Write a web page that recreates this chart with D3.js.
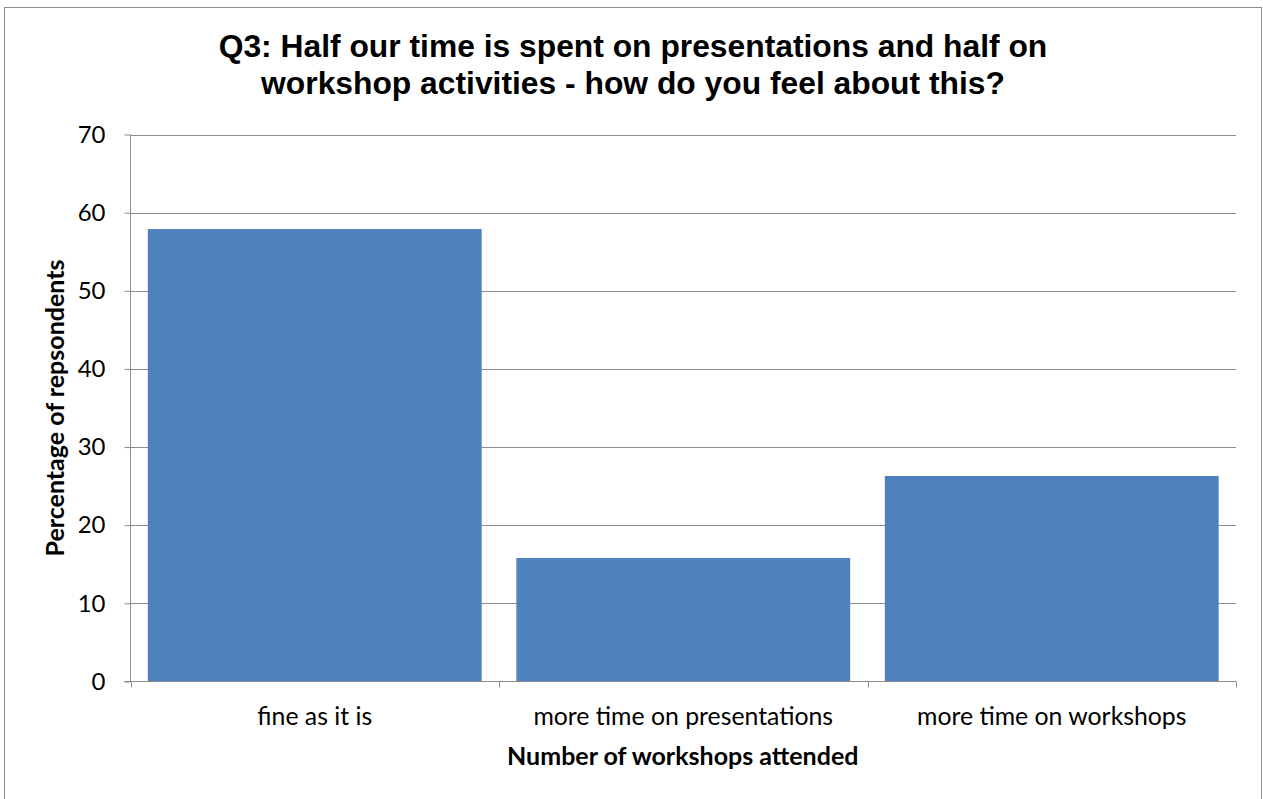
<!DOCTYPE html>
<html><head><meta charset="utf-8">
<script src="https://cdn.jsdelivr.net/npm/d3@7"></script>
<style>body{margin:0;background:#fff}svg{display:block}</style>
</head><body>
<script>
const categories = ["fine as it is", "more time on presentations", "more time on workshops"];
const values = [57.9, 15.8, 26.3];
const yTicks = [0, 10, 20, 30, 40, 50, 60, 70];
const titleLines = ["Q3: Half our time is spent on presentations and half on", "workshop activities - how do you feel about this?"];
const xTitle = "Number of workshops attended";
const yTitle = "Percentage of repsondents";

const W = 1263, H = 799;
const m = {left: 130.5, right: 1236, top: 134.5, bottom: 681.5};
const font = "Lato, 'Open Sans', sans-serif";
const svg = d3.select("body").append("svg").attr("width", W).attr("height", H);
svg.append("rect").attr("x", 4.5).attr("y", 7.5).attr("width", 1257).attr("height", 800)
  .attr("fill", "#fff").attr("stroke", "#8c8c8c").attr("stroke-width", 1);

const x = d3.scaleBand().domain(categories).range([m.left, m.right]).paddingInner(0.094).paddingOuter(0.047);
const y = d3.scaleLinear().domain([0, 70]).range([m.bottom, m.top]);

// gridlines
svg.append("g").selectAll("line").data(yTicks.filter(d => d > 0)).join("line")
  .attr("x1", m.left).attr("x2", m.right)
  .attr("y1", d => Math.round(y(d)) + 0.5).attr("y2", d => Math.round(y(d)) + 0.5)
  .attr("stroke", "#8c8c8c").attr("stroke-width", 1);

// bars
svg.append("g").selectAll("rect").data(values).join("rect")
  .attr("x", (d, i) => x(categories[i])).attr("width", x.bandwidth())
  .attr("y", d => y(d)).attr("height", d => y(0) - y(d))
  .attr("fill", "#4F81BD");

// y axis
const yAxis = d3.axisLeft(y).tickValues(yTicks).tickSize(6).tickPadding(19).tickFormat(d3.format("d"));
const gy = svg.append("g").attr("transform", `translate(${m.left},0)`).call(yAxis);
gy.select(".domain").attr("stroke", "#8c8c8c").attr("d", `M0,${m.top}V${m.bottom}`);
gy.selectAll(".tick line").attr("stroke", "#8c8c8c");
gy.selectAll(".tick text").attr("font-family", font).attr("font-size", 24).attr("fill", "#000");

// x axis
const xb = d3.scaleLinear().domain([0, 3]).range([m.left, m.right]);
const gx = svg.append("g").attr("transform", `translate(0,${m.bottom})`);
gx.append("line").attr("x1", m.left - 6).attr("x2", m.right).attr("stroke", "#8c8c8c");
gx.selectAll("line.t").data([0, 1, 2, 3]).join("line").attr("class", "t")
  .attr("x1", d => Math.round(xb(d)) + 0.5).attr("x2", d => Math.round(xb(d)) + 0.5)
  .attr("y1", 0).attr("y2", 6).attr("stroke", "#8c8c8c");
gx.selectAll("text").data(categories).join("text")
  .attr("x", d => x(d) + x.bandwidth() / 2).attr("y", 43)
  .attr("text-anchor", "middle").attr("font-family", font).attr("font-size", 24.8)
  .text(d => d);

// axis titles
svg.append("text").attr("x", (m.left + m.right) / 2 - 0.5).attr("y", 765).attr("text-anchor", "middle")
  .attr("font-family", font).attr("font-weight", "bold").attr("font-size", 25).text(xTitle);
svg.append("text").attr("transform", `translate(64,${(m.top + m.bottom) / 2}) rotate(-90)`).attr("text-anchor", "middle")
  .attr("font-family", font).attr("font-weight", "bold").attr("font-size", 25).text(yTitle);

// title
svg.append("g").selectAll("text").data(titleLines).join("text")
  .attr("x", 633).attr("y", (d, i) => 57 + i * 37).attr("text-anchor", "middle")
  .attr("font-family", "'Liberation Sans', Arial, sans-serif").attr("font-weight", "bold").attr("font-size", 31.8)
  .text(d => d);
</script>
</body></html>
